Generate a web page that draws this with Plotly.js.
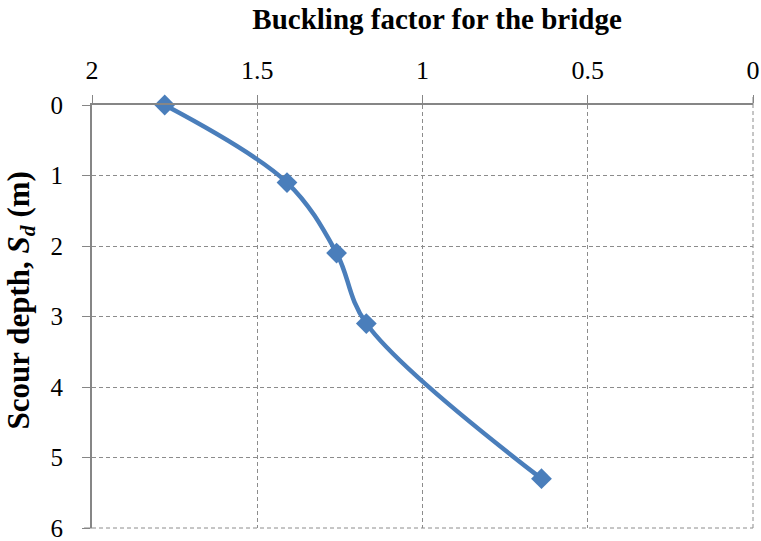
<!DOCTYPE html>
<html>
<head>
<meta charset="utf-8">
<script src="https://cdn.plot.ly/plotly-3.0.1.min.js"></script>
<style>html,body{margin:0;padding:0;background:#fff;}#chart{width:761px;height:541px;}</style>
</head>
<body>
<div id="chart"></div>
<script>
// Data
const bucklingFactor = [1.78, 1.41, 1.26, 1.17, 0.64];
const scourDepth = [0, 1.1, 2.1, 3.1, 5.3];
const xTicks = [2, 1.5, 1, 0.5, 0];
const xTickLabels = ['2', '1.5', '1', '0.5', '0'];
const yTicks = [0, 1, 2, 3, 4, 5, 6];
const chartTitle = 'Buckling factor for the bridge';
const yTitle = 'Scour depth, <i>S</i><sub><i>d</i></sub> (m)';

const serif = 'Liberation Serif, Times New Roman, serif';
const trace = {
  x: bucklingFactor,
  y: scourDepth,
  type: 'scatter',
  mode: 'lines+markers',
  line: {color: '#4A7EBB', width: 4.5, shape: 'spline', smoothing: 1},
  marker: {symbol: 'diamond', size: 16, color: '#4A7EBB'},
  showlegend: false,
  cliponaxis: false
};

const gridDash = '4px,3px';
const layout = {
  width: 761, height: 541,
  margin: {l: 92, r: 8, t: 105, b: 13},
  paper_bgcolor: '#fff', plot_bgcolor: '#fff',
  font: {family: serif, size: 26, color: '#000'},
  title: {
    text: '<b>' + chartTitle + '</b>',
    font: {family: serif, size: 29, color: '#000'},
    x: 0.522, xanchor: 'center', xref: 'paper',
    y: 0.965, yanchor: 'middle'
  },
  xaxis: {
    side: 'top',
    range: [2, 0],
    tickvals: xTicks, ticktext: xTickLabels,
    ticks: 'outside', ticklen: 8, tickcolor: '#868686', tickwidth: 1,
    ticklabelstandoff: 6,
    ticklabeloverflow: 'allow',
    showline: true, linecolor: '#868686', linewidth: 2,
    showgrid: true, gridcolor: '#8c8c8c', griddash: gridDash, gridwidth: 1,
    zeroline: false,
    tickfont: {family: serif, size: 26, color: '#000'},
    automargin: false
  },
  yaxis: {
    range: [6, 0],
    tickvals: yTicks,
    ticks: 'outside', ticklen: 8, tickcolor: '#868686', tickwidth: 1,
    ticklabelstandoff: 14,
    ticklabeloverflow: 'allow',
    showline: true, linecolor: '#868686', linewidth: 2,
    showgrid: true, gridcolor: '#8c8c8c', griddash: gridDash, gridwidth: 1,
    zeroline: false,
    tickfont: {family: serif, size: 25, color: '#000'},
    automargin: false
  },
  annotations: [
    {text: '<b>' + yTitle + '</b>', xref: 'paper', yref: 'paper',
     x: -0.108, y: 0.537, xanchor: 'center', yanchor: 'middle', textangle: -90,
     showarrow: false, font: {family: serif, size: 31, color: '#000'}}
  ],
  shapes: [
    {type: 'line', xref: 'paper', yref: 'paper', x0: 1, x1: 1, y0: 0, y1: 1,
     line: {color: '#8c8c8c', width: 1, dash: gridDash}, layer: 'below'},
    {type: 'line', xref: 'paper', yref: 'paper', x0: 0, x1: 1, y0: 0, y1: 0,
     line: {color: '#8c8c8c', width: 1, dash: gridDash}, layer: 'below'},
    {type: 'line', xref: 'paper', yref: 'paper', x0: 1, x1: 1, y0: 1, y1: 1.019,
     line: {color: '#868686', width: 1}, layer: 'below'},
    {type: 'line', xref: 'paper', yref: 'paper', x0: -0.012, x1: 0, y0: 0, y1: 0,
     line: {color: '#868686', width: 1}, layer: 'below'}
  ]
};

Plotly.newPlot('chart', [trace], layout, {displayModeBar: false, staticPlot: true});
</script>
</body>
</html>
